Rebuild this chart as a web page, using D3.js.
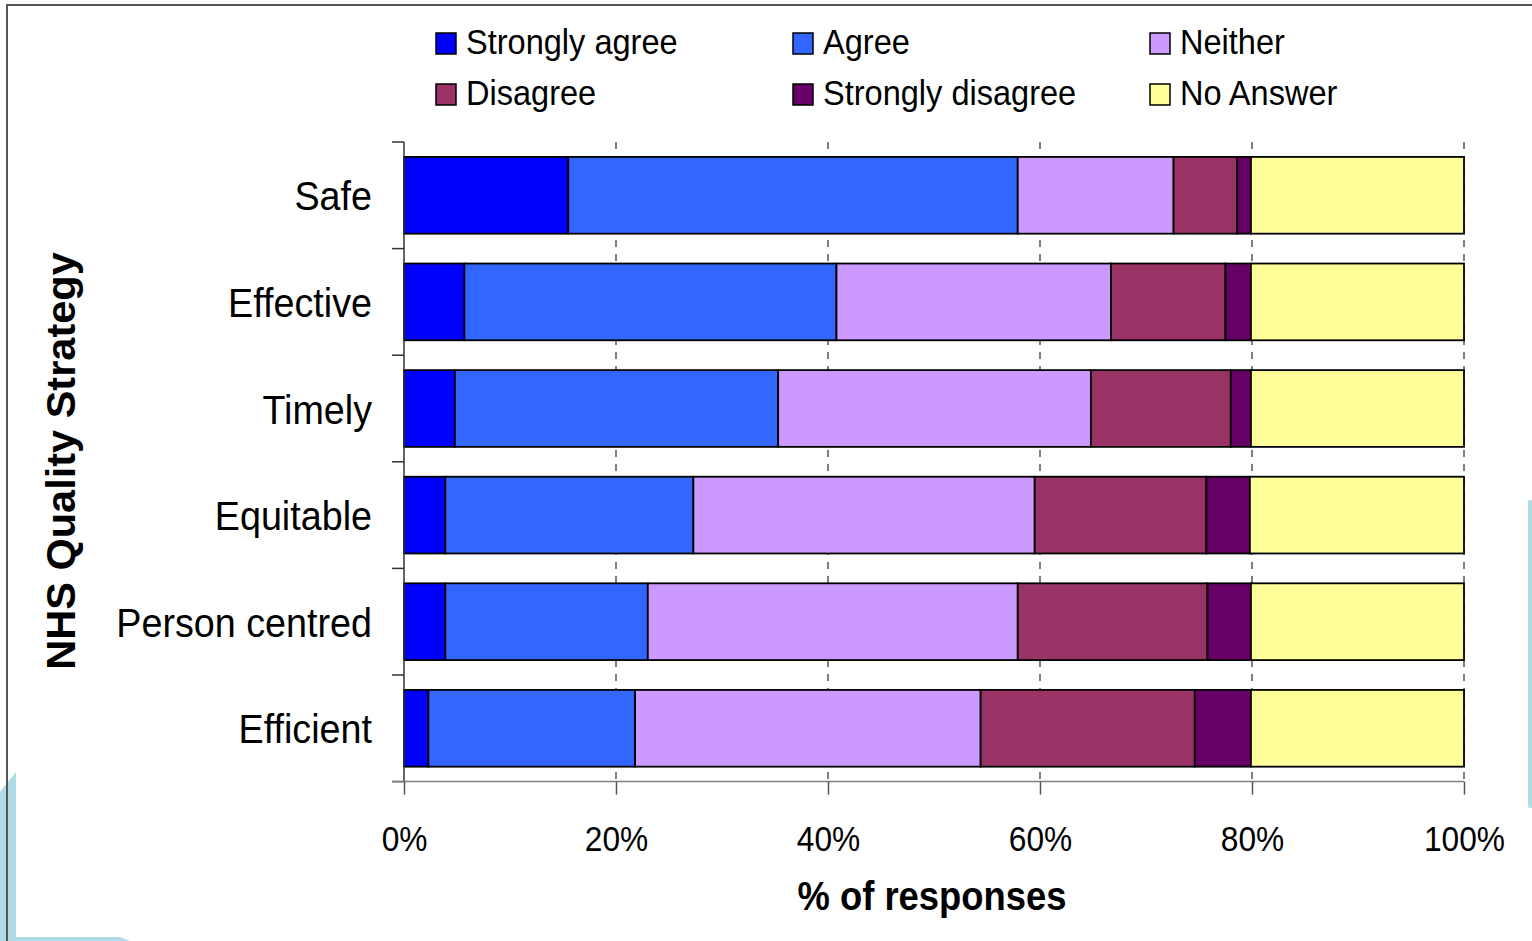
<html>
<head>
<title>NHS Quality Strategy</title>
<style>
body {
	margin: 0;
	background: #fff;
	font-family: 'Liberation Sans', Arial, sans-serif;
}
svg {
	display: block;
}
</style>
</head>
<body>
<svg width="1532" height="941"></svg>
<script src="https://d3js.org/d3.v7.min.js"></script>
<script>
// Chart values (% of responses)
let categories = ["Safe", "Effective", "Timely", "Equitable", "Person centred", "Efficient"];
let stronglyAgree    = [15.5,  5.7,  4.8,  3.9,  3.9,  2.3];
let agree            = [42.4, 35.1, 30.5, 23.4, 19.1, 19.5];
let neither          = [14.7, 25.9, 29.5, 32.2, 34.9, 32.6];
let disagree         = [ 6.0, 10.8, 13.2, 16.2, 17.9, 20.2];
let stronglyDisagree = [ 1.3,  2.4,  1.9,  4.1,  4.1,  5.3];
let noAnswer         = [20.1, 20.1, 20.1, 20.2, 20.1, 20.1];

let seriesNames  = ["Strongly agree", "Agree", "Neither", "Disagree", "Strongly disagree", "No Answer"];
let seriesColors = ["#0000ff", "#3366ff", "#cc99ff", "#993366", "#660066", "#ffff99"];
let tickValues = [0, 20, 40, 60, 80, 100];

let svg = d3.select("svg");

// slide background decorations
svg.append("path")
	.attr("d", "M0,792 L16,772 L16,937 L120,937 L130,941 L0,941 Z")
	.attr("fill", "#aedbe8");
svg.append("rect")
	.attr("x", 1528).attr("y", 500).attr("width", 6).attr("height", 308)
	.attr("rx", 2)
	.attr("fill", "#aedbe8");

// frame
svg.append("path")
	.attr("d", "M7,941 L7,5 L1532,5")
	.attr("fill", "none")
	.attr("stroke", "#555")
	.attr("stroke-width", 2);

// scales
let x = d3.scaleLinear().domain([0, 100]).range([404, 1464]);
let y = d3.scaleBand().domain(categories).range([142, 781.6]).paddingInner(0.28).paddingOuter(0.14);

// helper for the slightly narrow text of the original
function label(g, tx, ty, txt, size, sx, anchor, weight) {
	return g.append("text")
		.attr("transform", "translate(" + tx + "," + ty + ") scale(" + sx + ",1)")
		.attr("text-anchor", anchor)
		.attr("font-size", size)
		.attr("font-weight", weight || "normal")
		.attr("fill", "#000")
		.text(txt);
}

// dashed gridlines
svg.append("g").selectAll("line")
	.data(tickValues.slice(1))
	.enter()
	.append("line")
	.attr("x1", d => x(d)).attr("x2", d => x(d))
	.attr("y1", 142).attr("y2", 781.6)
	.attr("stroke", "#555")
	.attr("stroke-width", 1.5)
	.attr("stroke-dasharray", "7,7");

// stacked bars
let rows = categories.map(function(c, i) {
	return {
		cat: c,
		"Strongly agree": stronglyAgree[i],
		"Agree": agree[i],
		"Neither": neither[i],
		"Disagree": disagree[i],
		"Strongly disagree": stronglyDisagree[i],
		"No Answer": noAnswer[i]
	};
});
let stacked = d3.stack().keys(seriesNames)(rows);

svg.append("g").selectAll("g")
	.data(stacked)
	.enter()
	.append("g")
	.attr("fill", (d, i) => seriesColors[i])
	.selectAll("rect")
	.data(d => d)
	.enter()
	.append("rect")
	.attr("x", d => x(d[0]))
	.attr("width", d => x(d[1]) - x(d[0]))
	.attr("y", d => y(d.data.cat))
	.attr("height", y.bandwidth())
	.attr("stroke", "#000")
	.attr("stroke-width", 1.8);

// y axis line and boundary ticks
let step = y.step();
let bounds = categories.map(c => y(c) - y.paddingInner() * step / 2);
bounds.push(bounds[bounds.length - 1] + step);
let yAxis = svg.append("g");
yAxis.append("line")
	.attr("x1", 404).attr("x2", 404)
	.attr("y1", bounds[0]).attr("y2", bounds[bounds.length - 1])
	.attr("stroke", "#333").attr("stroke-width", 1.5);
yAxis.selectAll(".btick")
	.data(bounds)
	.enter()
	.append("line")
	.attr("x1", 392).attr("x2", 404)
	.attr("y1", d => d).attr("y2", d => d)
	.attr("stroke", "#333").attr("stroke-width", 1.5);

// category labels
categories.forEach(function(c) {
	label(svg, 372, y(c) + y.bandwidth() / 2 + 15, c, 41, 0.92, "end");
});

// x axis
let xAxis = svg.append("g")
	.attr("transform", "translate(0," + bounds[bounds.length - 1] + ")")
	.call(d3.axisBottom(x).tickValues(tickValues).tickSize(13).tickSizeOuter(0).tickFormat(d => d + "%"));
xAxis.select(".domain").attr("stroke", "#808080").attr("stroke-width", 1.5);
xAxis.selectAll(".tick line").attr("stroke", "#555").attr("stroke-width", 1.5);
xAxis.selectAll(".tick text")
	.attr("y", 69)
	.attr("dy", 0)
	.attr("font-size", 36)
	.attr("font-family", "'Liberation Sans', Arial, sans-serif")
	.attr("fill", "#000")
	.attr("transform", "scale(0.88,1)");
xAxis.select(".domain").attr("d", "M392,0H1464");

// axis titles
label(svg, 932, 910, "% of responses", 40, 0.91, "middle", "bold");
svg.append("text")
	.attr("transform", "translate(75,461) rotate(-90)")
	.attr("text-anchor", "middle")
	.attr("font-size", 41.5)
	.attr("font-weight", "bold")
	.text("NHS Quality Strategy");

// legend
let legendX = [436, 793, 1150];
let legendY = [33, 84];
seriesNames.forEach(function(name, i) {
	let lx = legendX[i % 3];
	let ly = legendY[Math.floor(i / 3)];
	svg.append("rect")
		.attr("x", lx).attr("y", ly)
		.attr("width", 20).attr("height", 21)
		.attr("fill", seriesColors[i])
		.attr("stroke", "#000")
		.attr("stroke-width", 1.5);
	label(svg, lx + 30, ly + 21, name, 35, 0.93, "start");
});
</script>
</body>
</html>
